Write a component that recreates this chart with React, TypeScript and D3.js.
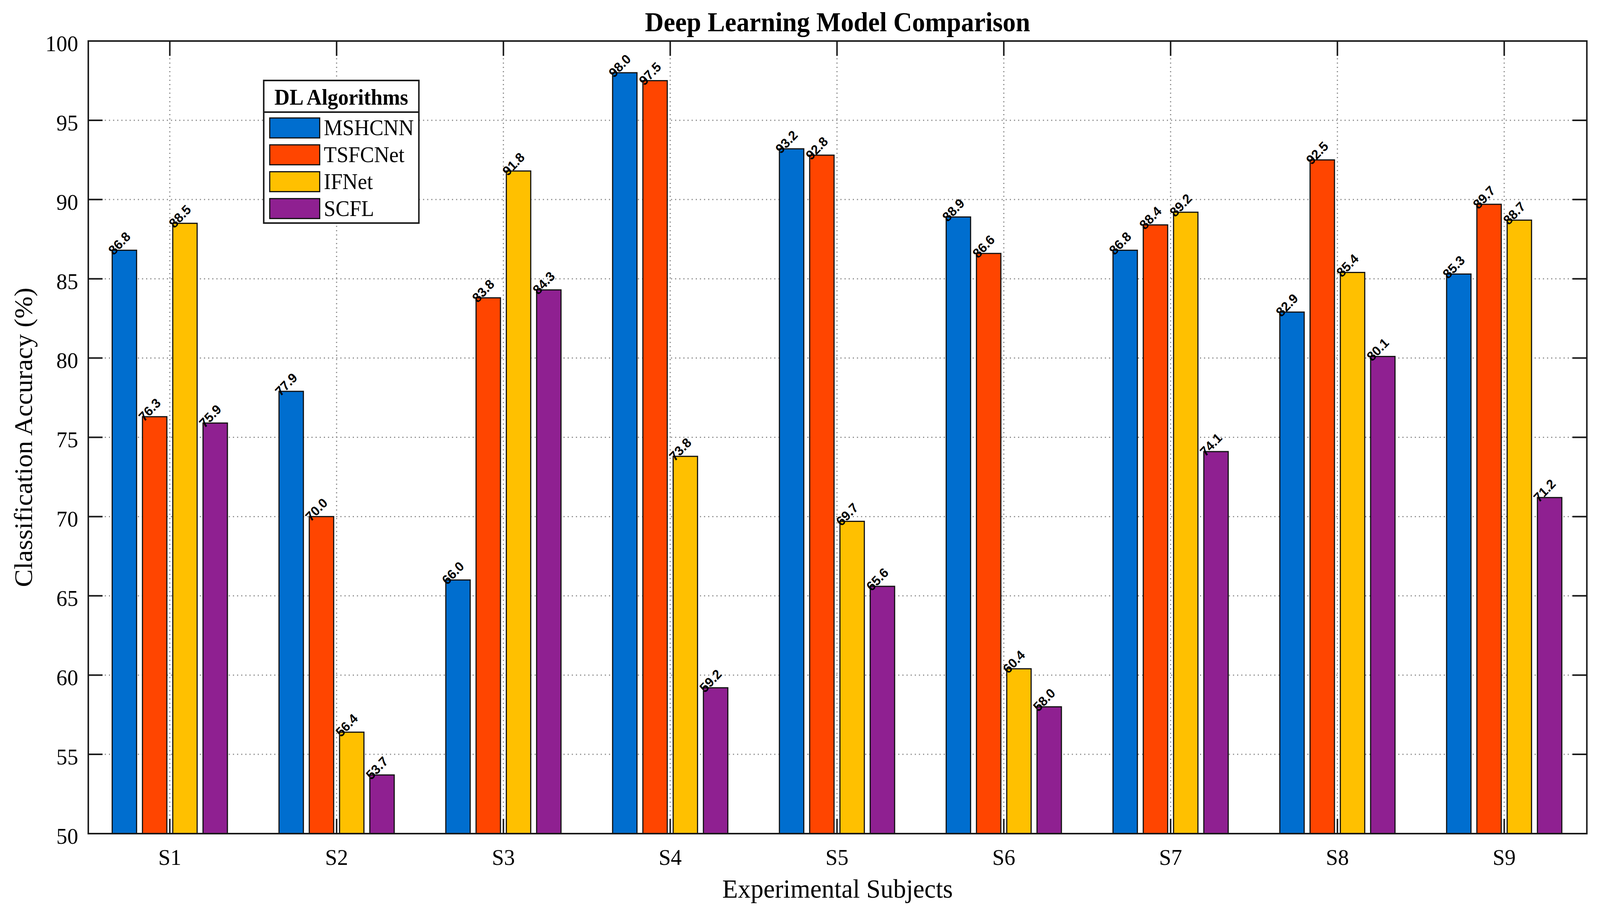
import { range, scaleBand, scaleLinear } from 'd3'

const WIDTH = 4259
const HEIGHT = 2350

const subjects = ['S1', 'S2', 'S3', 'S4', 'S5', 'S6', 'S7', 'S8', 'S9']
const algorithms = ['MSHCNN', 'TSFCNet', 'IFNet', 'SCFL']
const colors = ['#006ECF', '#FF4500', '#FFC000', '#8F2091']

const mshcnn = [86.8, 77.9, 66.0, 98.0, 93.2, 88.9, 86.8, 82.9, 85.3]
const tsfcnet = [76.3, 70.0, 83.8, 97.5, 92.8, 86.6, 88.4, 92.5, 89.7]
const ifnet = [88.5, 56.4, 91.8, 73.8, 69.7, 60.4, 89.2, 85.4, 88.7]
const scfl = [75.9, 53.7, 84.3, 59.2, 65.6, 58.0, 74.1, 80.1, 71.2]
const series = [mshcnn, tsfcnet, ifnet, scfl]

const yTicks = [50, 55, 60, 65, 70, 75, 80, 85, 90, 95, 100]

const FRAME = { left: 235, right: 4224, top: 105, bottom: 2134 }
const TICK = 38
const SERIF = '"Liberation Serif", "Times New Roman", serif'
const SANS = '"Liberation Sans", Arial, sans-serif'

export default function App() {
  const x = scaleLinear().domain([0.5, 9.5]).range([230, 4226])
  const y = scaleLinear().domain([50, 100]).range([FRAME.bottom, FRAME.top])
  const spacing = x(2) - x(1)
  const inner = scaleBand<string>()
    .domain(algorithms)
    .range([-0.363 * spacing, 0.363 * spacing])
    .paddingInner(0.194)
    .paddingOuter(0.097)

  const legend = { left: 702, right: 1115, top: 206, bottom: 571, divider: 287 }
  const rowY = (i: number) => 327.5 + i * 68.8

  // the svg is stretched to whatever the viewport is, so nothing gets cut off
  return (
    <svg
      viewBox={`0 0 ${WIDTH} ${HEIGHT}`}
      preserveAspectRatio="none"
      style={{ position: 'fixed', left: 0, top: 0, width: '100vw', height: '100vh', background: '#fff' }}
    >
      <rect width={WIDTH} height={HEIGHT} fill="#fff" />

      {/* grid */}
      <g stroke="#8a8a8a" strokeWidth={3} strokeDasharray="3 8">
        {yTicks.slice(1, -1).map((t) => (
          <line key={`gy${t}`} x1={FRAME.left} x2={FRAME.right} y1={y(t)} y2={y(t)} />
        ))}
        {subjects.map((s, i) => (
          <line key={`gx${s}`} x1={x(i + 1)} x2={x(i + 1)} y1={FRAME.top} y2={FRAME.bottom} />
        ))}
      </g>

      {/* bars */}
      {series.map((values, k) => (
        <g key={algorithms[k]} fill={colors[k]} stroke="#111" strokeWidth={3}>
          {values.map((v, i) => (
            <rect
              key={subjects[i]}
              x={x(i + 1) + (inner(algorithms[k]) ?? 0)}
              y={y(v)}
              width={inner.bandwidth()}
              height={y(50) - y(v)}
            />
          ))}
        </g>
      ))}

      {/* value labels, baseline starts just inside the bar's top-left corner */}
      <g fontFamily={SANS} fontWeight="bold" fontSize={34} fill="#000">
        {series.map((values, k) =>
          values.map((v, i) => {
            const bx = x(i + 1) + (inner(algorithms[k]) ?? 0) + 4
            const by = y(v) + 14
            return (
              <text key={`${k}-${i}`} x={bx} y={by} transform={`rotate(-45 ${bx} ${by})`}>
                {v.toFixed(1)}
              </text>
            )
          })
        )}
      </g>

      {/* axes frame and ticks */}
      <g stroke="#1a1a1a" strokeWidth={4} fill="none">
        <rect
          x={FRAME.left}
          y={FRAME.top}
          width={FRAME.right - FRAME.left}
          height={FRAME.bottom - FRAME.top}
        />
        {yTicks.map((t) => (
          <g key={`ty${t}`}>
            <line x1={FRAME.left} x2={FRAME.left + TICK} y1={y(t)} y2={y(t)} />
            <line x1={FRAME.right} x2={FRAME.right - TICK} y1={y(t)} y2={y(t)} />
          </g>
        ))}
        {subjects.map((s, i) => (
          <g key={`tx${s}`}>
            <line x1={x(i + 1)} x2={x(i + 1)} y1={FRAME.bottom} y2={FRAME.bottom - TICK} />
            <line x1={x(i + 1)} x2={x(i + 1)} y1={FRAME.top} y2={FRAME.top + TICK} />
          </g>
        ))}
      </g>

      {/* tick labels */}
      <g fontFamily={SERIF} fontSize={58} fill="#000">
        {yTicks.map((t) => (
          <text key={`ly${t}`} x={FRAME.left - 27} y={y(t) + 6} textAnchor="end" dominantBaseline="central">
            {t}
          </text>
        ))}
        {subjects.map((s, i) => (
          <text key={`lx${s}`} x={x(i + 1)} y={2214} textAnchor="middle">
            {s}
          </text>
        ))}
      </g>

      {/* title and axis labels */}
      <text
        x={(FRAME.left + FRAME.right) / 2}
        y={80}
        textAnchor="middle"
        fontFamily={SERIF}
        fontWeight="bold"
        fontSize={69}
      >
        Deep Learning Model Comparison
      </text>
      <text x={(FRAME.left + FRAME.right) / 2} y={2298} textAnchor="middle" fontFamily={SERIF} fontSize={68}>
        Experimental Subjects
      </text>
      <text
        x={85}
        y={(FRAME.top + FRAME.bottom) / 2}
        textAnchor="middle"
        fontFamily={SERIF}
        fontSize={68}
        transform={`rotate(-90 85 ${(FRAME.top + FRAME.bottom) / 2})`}
      >
        Classification Accuracy (%)
      </text>

      {/* legend */}
      <g>
        <rect
          x={legend.left}
          y={legend.top}
          width={legend.right - legend.left}
          height={legend.bottom - legend.top}
          fill="#fff"
          stroke="#1a1a1a"
          strokeWidth={4}
        />
        <line x1={legend.left} x2={legend.right} y1={legend.divider} y2={legend.divider} stroke="#1a1a1a" strokeWidth={4} />
        <text
          x={(legend.left + legend.right) / 2}
          y={268}
          textAnchor="middle"
          fontFamily={SERIF}
          fontWeight="bold"
          fontSize={56}
        >
          DL Algorithms
        </text>
        {range(algorithms.length).map((i) => (
          <g key={`lg${i}`}>
            <rect x={718} y={rowY(i) - 25.5} width={133} height={51} fill={colors[i]} stroke="#111" strokeWidth={3} />
            <text x={862} y={rowY(i) + 19} fontFamily={SERIF} fontSize={56}>
              {algorithms[i]}
            </text>
          </g>
        ))}
      </g>
    </svg>
  )
}
